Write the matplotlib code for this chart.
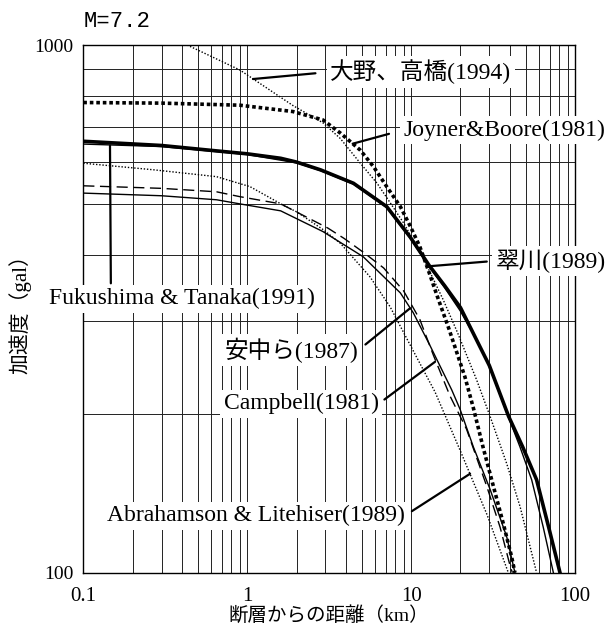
import matplotlib
matplotlib.use("Agg")
import matplotlib.pyplot as plt
from matplotlib.ticker import FixedLocator, FixedFormatter, LogLocator, NullFormatter

# ---- data (distance km, acceleration gal) ----
ohno_x = [0.43, 0.9, 1.9, 2.9, 3.7, 4.9, 6.2, 7.5, 9.0, 11.0, 13.0, 15.7, 19.2, 25.1, 30.3, 38.3, 46.2, 58.3]
ohno_y = [1000, 897, 768, 712, 665, 597, 547, 501, 460, 412, 372, 329, 285, 232, 198, 161, 133.5, 100]

joyner_x = [0.1, 0.3, 0.9, 1.9, 2.9, 3.7, 4.9, 5.9, 7.1, 8.6, 9.9, 11.3, 12.9, 14.4, 17, 21.3, 24, 27.6, 32.5, 36.5, 41.1, 43]
joyner_y = [778, 776, 769, 748, 721, 681, 632, 588, 539, 494, 453, 415, 370, 335, 290, 235, 205, 172, 142, 124, 107, 100]

midori_x = [0.1, 0.3, 0.65, 1, 1.6, 2, 2.8, 4.45, 7.1, 9.9, 12.9, 16, 20, 30, 39.3, 48, 58.3, 70, 81]
midori_y = [657, 645, 630, 622, 610, 600, 580, 547, 494, 432, 382, 350, 318, 247, 198, 173, 150, 120, 100]

fuku_x = [0.1, 0.3, 0.65, 1, 2, 2.8, 4.45, 7.1, 9.9, 12.9, 16, 20, 25, 30, 39.3, 46.2, 54.4, 64, 73.8]
fuku_y = [649, 642, 628, 620, 598, 578, 545, 492, 430, 380, 347, 313, 277, 246, 197, 173, 150, 122, 100]

annaka_x = [0.1, 0.3, 0.65, 0.9, 1.6, 2.9, 5.1, 8.6, 10.3, 13, 17.7, 19.9, 24, 30.3, 38.3, 43]
annaka_y = [524, 518, 509, 500, 485, 443, 397, 339, 311, 270, 222, 204, 173, 144, 117, 100]

campbell_x = [0.1, 0.3, 0.65, 0.9, 1.6, 2.3, 3.1, 3.9, 5.1, 6.8, 9, 11.3, 13.7, 17.3, 21.8, 28.9, 34.9, 40.2, 41.5]
campbell_y = [541, 535, 527, 516, 500, 472, 450, 430, 405, 378, 342, 302, 258, 216, 187, 146, 122, 103, 100]

abra_x = [0.1, 0.27, 0.65, 1.04, 1.66, 2.0, 2.9, 3.7, 5.6, 7.45, 10, 14, 20, 29, 39.2]
abra_y = [597, 580, 563, 539, 497, 483, 447, 421, 364, 319, 268, 220, 170, 129, 100]

x_ticks = [0.1, 1, 10, 100]
x_tick_labels = ["0.1", "1", "10", "100"]
y_ticks = [100, 1000]
y_tick_labels = ["100", "1000"]

serif = ["Liberation Serif", "Noto Sans CJK JP"]
plt.rcParams["font.family"] = serif

fig = plt.figure(figsize=(6.15, 6.30), dpi=100)
ax = fig.add_axes([83.3 / 615, (630 - 572.7) / 630, 491.7 / 615, 527.7 / 630])
ax.set_xscale("log")
ax.set_yscale("log")
ax.set_xlim(0.1, 100)
ax.set_ylim(100, 1000)

# grid (major + minor)
ax.xaxis.set_major_locator(FixedLocator(x_ticks))
ax.xaxis.set_major_formatter(FixedFormatter(x_tick_labels))
ax.yaxis.set_major_locator(FixedLocator(y_ticks))
ax.yaxis.set_major_formatter(FixedFormatter(y_tick_labels))
ax.xaxis.set_minor_locator(LogLocator(base=10, subs=range(2, 10)))
ax.yaxis.set_minor_locator(LogLocator(base=10, subs=range(2, 10)))
ax.xaxis.set_minor_formatter(NullFormatter())
ax.yaxis.set_minor_formatter(NullFormatter())
ax.grid(True, which="both", color="#222222", lw=0.7, zorder=1)
ax.set_axisbelow(True)
ax.tick_params(which="both", length=0)
ax.tick_params(axis="x", pad=10, labelsize=15)
ax.tick_params(axis="y", pad=7, labelsize=14)
for s in ax.spines.values():
    s.set_linewidth(1.0)

# curves
ax.plot(ohno_x, ohno_y, color="black", lw=1.0, ls=(0, (1, 1.3)), zorder=3)
ax.plot(joyner_x, joyner_y, color="black", lw=2.6, ls=(0, (1, 0.8)), zorder=3)
ax.plot(midori_x, midori_y, color="black", lw=2.6, zorder=3)
ax.plot(fuku_x, fuku_y, color="black", lw=1.0, zorder=3)
ax.plot(annaka_x, annaka_y, color="black", lw=1.0, zorder=3)
ax.plot(campbell_x, campbell_y, color="black", lw=1.0, ls=(0, (8, 4)), zorder=3)
ax.plot(abra_x, abra_y, color="black", lw=1.0, ls=(0, (1, 1.3)), zorder=3)

# labels with leader lines
box = dict(boxstyle="square,pad=0.15", fc="white", ec="none")
labels = [
    ("大野、高橋(1994)", (1.085, 862), (0.686, 0.949), (0, 0.5), 8),
    ("Joyner&Boore(1981)", (4.4, 650), (0.856, 0.839), (0, 0.5), 8),
    ("翠川(1989)", (13.1, 381), (0.951, 0.591), (0, 0.5), 4),
    ("Fukushima & Tanaka(1991)", (0.1455, 645), (0.201, 0.519), (0.232, 1), 1),
    ("安中ら(1987)", (9.85, 317), (0.424, 0.422), (1, 0.5), 3),
    ("Campbell(1981)", (14.0, 251), (0.443, 0.320), (1, 0.5), 2),
    ("Abrahamson & Litehiser(1989)", (22.9, 154), (0.351, 0.108), (1, 0.5), 3),
]
for text, xy, xyt, rel, shr in labels:
    ax.annotate(text, xy=xy, xycoords="data", xytext=xyt, textcoords="axes fraction",
                ha="center", va="center", fontsize=17, bbox=box,
                annotation_clip=False, zorder=5,
                arrowprops=dict(arrowstyle="-", lw=1.6, color="black",
                                relpos=rel, shrinkA=shr, shrinkB=0))

ax.text(0.0, 1.044, "M=7.2", transform=ax.transAxes, ha="left", va="center",
        fontsize=16, family=["Liberation Mono", "DejaVu Sans"])
ax.set_xlabel("断層からの距離（km）", fontsize=14, labelpad=0)
ax.set_ylabel("加速度（gal）", fontsize=15, labelpad=2)

fig.savefig("out.png", dpi=100)
